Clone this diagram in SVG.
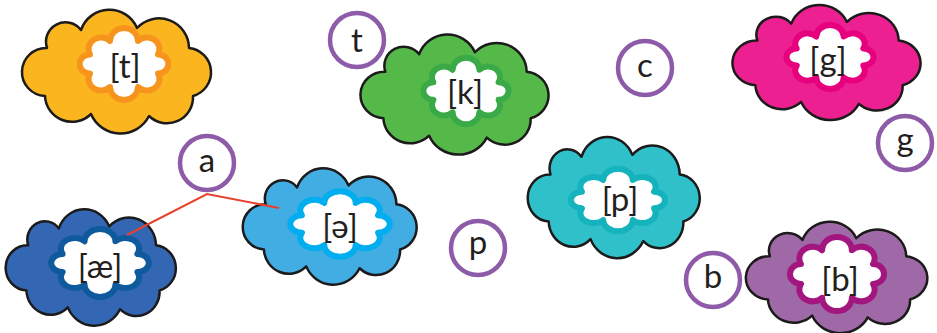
<svg xmlns="http://www.w3.org/2000/svg" xmlns:xlink="http://www.w3.org/1999/xlink" width="937" height="333" viewBox="0 0 937 333">
<style>
.cl{stroke:#1c1a1a;stroke-width:2.5;stroke-linejoin:round}
.fl{fill:#fff;stroke-width:6;stroke-linejoin:round}
.lab{font-family:Lato,"Open Sans",sans-serif;font-size:33px;fill:#231f20;text-anchor:middle}
.ring{fill:#fff;stroke:#8e5ba8;stroke-width:4.5}
.con{fill:none;stroke:#e8412c;stroke-width:2}
</style>
<defs>
<path id="cloud" vector-effect="non-scaling-stroke" d="M-74 26 A24 24 0 0 1 -72 -22 A19.5 19.5 0 0 1 -38 -40 A30 30 0 0 1 18 -42 A30 30 0 0 1 70 -22 A24.5 24.5 0 0 1 74 26 A26 26 0 0 1 30 46 A32 32 0 0 1 -28 44 A27 27 0 0 1 -74 26 Z"/>
<path id="flower" vector-effect="non-scaling-stroke" d="M34 10.4 A12.5 12.5 0 0 1 14 25 A14 14 0 0 1 -14 25 A12.5 12.5 0 0 1 -34 10.4 A10.4 10.4 0 0 1 -34 -10.4 A12.5 12.5 0 0 1 -14 -25 A14 14 0 0 1 14 -25 A12.5 12.5 0 0 1 34 -10.4 A10.4 10.4 0 0 1 34 10.4 Z"/>
</defs>
<g id="cloud-t" transform="translate(119,70)">
<use xlink:href="#cloud" class="cl" fill="#fbb61f"/>
<use xlink:href="#flower" class="fl" stroke="#f7941e" transform="translate(5,-6) scale(1,0.92)"/>
<text class="lab" x="6" y="8">[t]</text>
</g>
<g id="cloud-k" transform="translate(457,93)">
<use xlink:href="#cloud" class="cl" fill="#55b94a" transform="scale(0.995,0.97)"/>
<use xlink:href="#flower" class="fl" stroke="#3aa948" transform="translate(9,-2) scale(0.96,0.85)"/>
<text class="lab" x="8" y="11">[k]</text>
</g>
<g id="cloud-g" transform="translate(829,61)">
<use xlink:href="#cloud" class="cl" fill="#ec2090" transform="scale(0.995,0.93)"/>
<use xlink:href="#flower" class="fl" stroke="#e6007e" transform="translate(1,-4) scale(0.98,0.82)"/>
<text class="lab" x="-1" y="10">[g]</text>
</g>
<g id="cloud-ae" transform="translate(93,266)">
<use xlink:href="#cloud" class="cl" fill="#3467b3" transform="scale(0.9,0.94)"/>
<use xlink:href="#flower" class="fl" stroke="#0e5a9c" transform="translate(7,-3) scale(1.1,0.87)"/>
<text class="lab" x="7" y="12">[æ]</text>
</g>
<g id="cloud-schwa" transform="translate(332,225)">
<use xlink:href="#cloud" class="cl" fill="#41ade3" transform="scale(0.92,0.94)"/>
<use xlink:href="#flower" class="fl" stroke="#00aeef" transform="translate(8,-1) scale(1.12,0.84)"/>
<text class="lab" x="8" y="13">[ə]</text>
</g>
<g id="cloud-p" transform="translate(616,196)">
<use xlink:href="#cloud" class="cl" fill="#30c0c9" transform="scale(0.91,0.98)"/>
<use xlink:href="#flower" class="fl" stroke="#14b3bd" transform="translate(2,4) scale(1.06,0.8)"/>
<text class="lab" x="4" y="15">[p]</text>
</g>
<g id="cloud-b" transform="translate(839,276)">
<use xlink:href="#cloud" class="cl" fill="#9e69a6" transform="scale(0.96,0.9)"/>
<use xlink:href="#flower" class="fl" stroke="#a3167f" transform="translate(-2,-2) scale(1.06,0.95)"/>
<text class="lab" x="1" y="15">[b]</text>
</g>
<g id="connectors">
<polyline class="con" points="127,235 207,194 279,208"/>
</g>
<g id="letter-t"><circle class="ring" cx="357" cy="40" r="27"/><text class="lab" x="357" y="52">t</text></g>
<g id="letter-c"><circle class="ring" cx="645" cy="68" r="27"/><text class="lab" x="645" y="77">c</text></g>
<g id="letter-g"><circle class="ring" cx="905" cy="143" r="27"/><text class="lab" x="905" y="151">g</text></g>
<g id="letter-a"><circle class="ring" cx="207" cy="163" r="27"/><text class="lab" x="207" y="172">a</text></g>
<g id="letter-p"><circle class="ring" cx="478" cy="248" r="27"/><text class="lab" x="478" y="254">p</text></g>
<g id="letter-b"><circle class="ring" cx="713" cy="280" r="27"/><text class="lab" x="713" y="288">b</text></g>
</svg>
